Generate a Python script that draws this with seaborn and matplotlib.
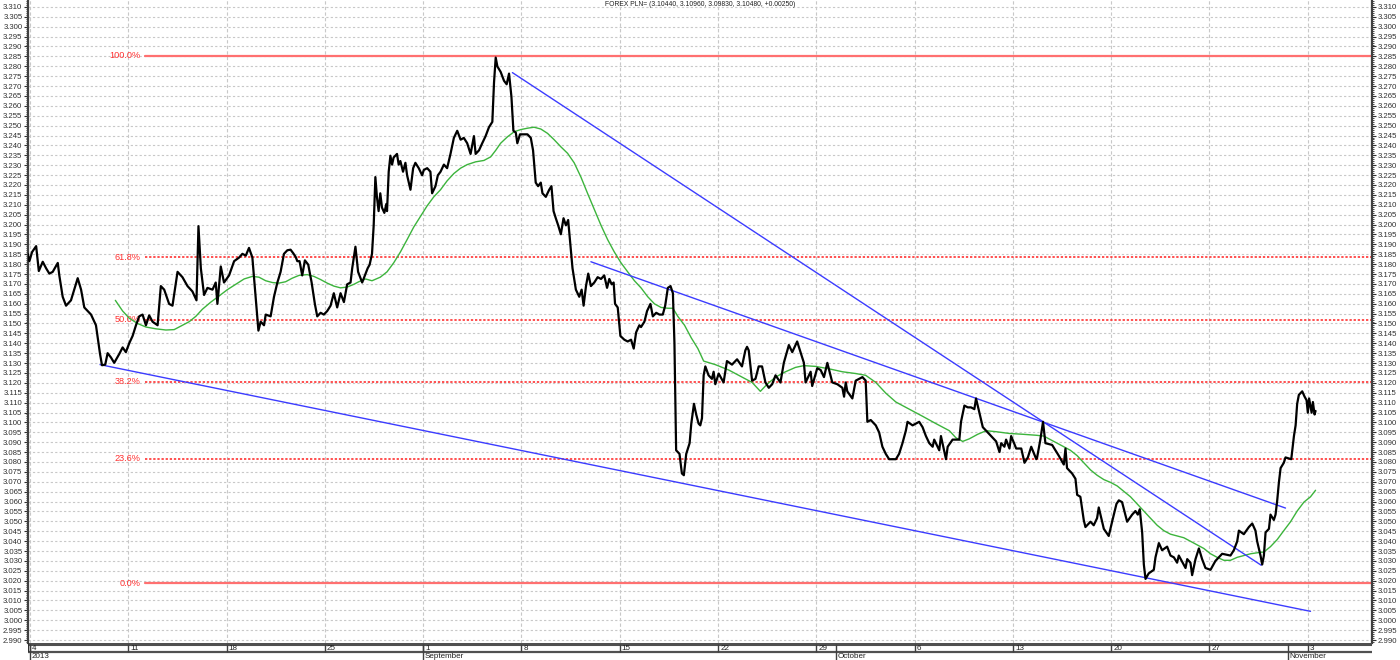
import numpy as np
import pandas as pd
import seaborn as sns
import matplotlib.pyplot as plt

# x = trading-time position in "days" from Sunday Aug 4 2013 (7 units per week)
price_x = [
    -0.16, -0.04, 0.15, 0.44, 0.63, 0.91, 1.15, 1.38, 1.62, 1.98, 2.09, 2.33, 2.57, 2.92, 3.40, 3.64,
    3.87, 4.11, 4.35, 4.70, 4.99, 5.13, 5.36, 5.53, 5.77, 6.00, 6.36, 6.60, 6.83, 7.07, 7.31, 7.55,
    7.78, 8.02, 8.26, 8.49, 8.73, 9.09, 9.32, 9.56, 9.91, 10.15, 10.51, 10.86, 11.22, 11.57, 11.86,
    12.00, 12.17, 12.40, 12.64, 13.00, 13.23, 13.35, 13.59, 13.82, 14.18, 14.54, 14.89, 15.13, 15.37,
    15.60, 15.84, 16.03, 16.27, 16.43, 16.67, 16.79, 17.14, 17.38, 17.62, 17.85, 18.09, 18.33, 18.56,
    18.75, 18.92, 19.04, 19.20, 19.39, 19.58, 19.82, 20.06, 20.29, 20.46, 20.70, 20.93, 21.17, 21.41,
    21.64, 21.88, 22.12, 22.36, 22.59, 22.83, 22.95, 23.18, 23.37, 23.66, 23.90,
    24.05, 24.19, 24.36, 24.48, 24.60, 24.71, 24.83, 24.95, 25.07, 25.24, 25.38, 25.43, 25.55, 25.67,
    25.79, 25.90, 26.14, 26.26, 26.38, 26.57, 26.74, 26.86, 27.10, 27.29, 27.45, 27.69, 27.93, 28.05,
    28.29, 28.52, 28.64, 28.88, 29.05, 29.24, 29.48, 29.71, 29.95, 30.19, 30.43, 30.67, 30.90, 31.14,
    31.38, 31.62, 31.74, 31.98, 32.21, 32.45, 32.69, 32.93, 33.05, 33.17, 33.29, 33.52, 33.76, 33.95,
    34.12, 34.29, 34.43, 34.60, 34.71, 34.90, 35.19, 35.43, 35.67, 35.83, 36.02, 36.19, 36.38, 36.50,
    36.74, 36.98, 37.14, 37.29, 37.45, 37.62, 37.81, 38.00, 38.17, 38.33, 38.52, 38.64, 38.88, 39.12,
    39.29, 39.43, 39.60, 39.76, 39.95, 40.19, 40.43, 40.67, 40.90, 41.10, 41.26, 41.43, 41.57, 41.67,
    41.86, 42.05, 42.33, 42.57, 42.81, 43.00, 43.17, 43.40, 43.52, 43.76, 43.95, 44.19, 44.36, 44.60,
    44.83, 45.07, 45.24, 45.43, 45.62, 45.79, 45.90, 46.02, 46.26, 46.43, 46.57, 46.74, 46.98, 47.10,
    47.29, 47.45, 47.62, 47.74,
    47.86, 47.98, 48.10, 48.33, 48.57, 48.69, 48.81, 49.05, 49.40, 49.64, 50.00, 50.36, 50.71, 50.95,
    51.07, 51.19, 51.43, 51.67, 51.90, 52.14, 52.38, 52.62, 52.86, 53.10, 53.45, 53.69, 54.05, 54.29,
    54.64, 54.88, 55.12, 55.24, 55.60, 55.71, 56.07, 56.31, 56.55, 56.79, 57.14, 57.50, 57.86, 57.98,
    58.10, 58.21, 58.57, 58.81, 59.29, 59.52, 59.64, 59.88, 60.24, 60.48, 60.71, 60.95, 61.19, 61.67,
    61.90, 62.14, 62.38, 62.50, 62.86, 63.10, 63.33, 63.57, 63.81, 64.05, 64.29, 64.40, 64.76, 64.88,
    65.24, 65.36, 65.71, 66.19, 66.31, 66.55, 66.79, 67.02, 67.26, 67.38, 67.62, 67.86, 68.33, 68.81,
    69.05, 69.17, 69.40, 69.52, 69.76, 69.88, 70.24, 70.60, 70.83, 71.07, 71.31, 71.67,
    71.73, 71.96, 72.15, 72.32, 72.80, 73.27, 73.63, 73.75, 73.86, 74.22, 74.46, 74.58, 74.81, 75.05,
    75.17, 75.53, 75.76, 76.00, 76.12, 76.48, 76.83, 77.07, 77.38, 77.55, 77.78, 78.14, 78.50, 78.73,
    78.90, 79.04, 79.21, 79.33, 79.45, 79.68, 80.04, 80.16, 80.40, 80.63, 80.99, 81.23, 81.47, 81.70,
    81.82, 82.30, 82.42, 82.65, 82.77, 83.01, 83.25, 83.48, 83.72, 84.08, 84.43, 84.67, 84.91, 85.50,
    85.74, 85.98, 86.10, 86.45, 86.81, 87.05, 87.28, 87.40, 87.64, 87.76, 87.88, 88.00, 88.24, 88.35,
    88.59, 88.71, 88.83, 88.95, 89.07, 89.30, 89.42, 89.83, 90.02, 90.14, 90.25, 90.37, 90.61, 90.78,
    90.92, 91.01, 91.10, 91.28, 91.37, 91.49, 91.56,
]
price_y = [
    3.1852, 3.1815, 3.1861, 3.1891, 3.1765, 3.1812, 3.1779, 3.1752, 3.1761, 3.1806, 3.1743, 3.1635, 3.1590, 3.1617, 3.1729, 3.1671,
    3.1581, 3.1563, 3.1545, 3.1491, 3.1346, 3.1289, 3.1292, 3.1350, 3.1328, 3.1301, 3.1346, 3.1379, 3.1355, 3.1400, 3.1437, 3.1491,
    3.1536, 3.1545, 3.1491, 3.1541, 3.1509, 3.1491, 3.1689, 3.1671, 3.1599, 3.1590, 3.1761, 3.1734, 3.1689, 3.1662, 3.1617,
    3.1992, 3.1779, 3.1644, 3.1680, 3.1671, 3.1707, 3.1599, 3.1788, 3.1707, 3.1743, 3.1815, 3.1833, 3.1852, 3.1843,
    3.1882, 3.1833, 3.1671, 3.1464, 3.1509, 3.1491, 3.1545, 3.1536, 3.1635, 3.1707, 3.1761, 3.1852, 3.1870, 3.1873,
    3.1855, 3.1837, 3.1815, 3.1815, 3.1743, 3.1819, 3.1797, 3.1707, 3.1599, 3.1536, 3.1554, 3.1545, 3.1563, 3.1590,
    3.1653, 3.1581, 3.1653, 3.1608, 3.1698, 3.1707, 3.1779, 3.1888, 3.1761, 3.1707, 3.1752,
    3.1779, 3.1797, 3.1852, 3.1996, 3.2240, 3.2140, 3.2068, 3.2158, 3.2086, 3.2059, 3.2104, 3.2068, 3.2267, 3.2348,
    3.2303, 3.2339, 3.2357, 3.2303, 3.2321, 3.2267, 3.2312, 3.2249, 3.2176, 3.2285, 3.2312, 3.2285, 3.2249, 3.2276,
    3.2285, 3.2267, 3.2158, 3.2194, 3.2249, 3.2267, 3.2303, 3.2285, 3.2357, 3.2438, 3.2474, 3.2429, 3.2438, 3.2411,
    3.2357, 3.2447, 3.2357, 3.2375, 3.2411, 3.2447, 3.2492, 3.2519, 3.2718, 3.2844, 3.2799, 3.2772, 3.2727, 3.2709,
    3.2763, 3.2646, 3.2474, 3.2465, 3.2411, 3.2456, 3.2456, 3.2456, 3.2438, 3.2375, 3.2212, 3.2194, 3.2212, 3.2158,
    3.2140, 3.2176, 3.2194, 3.2068, 3.2032, 3.1996, 3.1951, 3.2032, 3.1996, 3.2023, 3.1870, 3.1779, 3.1671, 3.1635,
    3.1671, 3.1590, 3.1689, 3.1752, 3.1689, 3.1707, 3.1734, 3.1725, 3.1743, 3.1680, 3.1725, 3.1698, 3.1707, 3.1599,
    3.1581, 3.1437, 3.1418, 3.1409, 3.1418, 3.1373, 3.1455, 3.1491, 3.1482, 3.1509, 3.1563, 3.1599, 3.1536, 3.1554,
    3.1545, 3.1545, 3.1590, 3.1680, 3.1689, 3.1653, 3.1400, 3.0859, 3.0841, 3.0742, 3.0733, 3.0841, 3.0895, 3.0994,
    3.1094, 3.1040, 3.0994, 3.0985,
    3.1021, 3.1238, 3.1283, 3.1238, 3.1220, 3.1256, 3.1193, 3.1247, 3.1202, 3.1310, 3.1292, 3.1319, 3.1283, 3.1364,
    3.1382, 3.1364, 3.1211, 3.1220, 3.1283, 3.1283, 3.1202, 3.1175, 3.1193, 3.1238, 3.1202, 3.1301, 3.1391, 3.1355,
    3.1409, 3.1355, 3.1301, 3.1202, 3.1256, 3.1184, 3.1274, 3.1265, 3.1229, 3.1301, 3.1202, 3.1193, 3.1175, 3.1130,
    3.1202, 3.1157, 3.1121, 3.1211, 3.1229, 3.1211, 3.1003, 3.1012, 3.0985, 3.0949, 3.0877, 3.0841, 3.0814, 3.0814,
    3.0841, 3.0895, 3.0958, 3.1003, 3.0985, 3.0994, 3.1003, 3.0976, 3.0931, 3.0895, 3.0877, 3.0913, 3.0859, 3.0931,
    3.0814, 3.0877, 3.0913, 3.0913, 3.1003, 3.1085, 3.1076, 3.1076, 3.1067, 3.1121, 3.1049, 3.0976, 3.0940, 3.0904,
    3.0850, 3.0895, 3.0877, 3.0913, 3.0868, 3.0931, 3.0868, 3.0868, 3.0796, 3.0823, 3.0877, 3.0814,
    3.0823, 3.0913, 3.1003, 3.0895, 3.0886, 3.0832, 3.0787, 3.0868, 3.0769, 3.0742, 3.0715, 3.0634, 3.0624, 3.0507,
    3.0471, 3.0498, 3.0480, 3.0516, 3.0570, 3.0462, 3.0426, 3.0498, 3.0588, 3.0606, 3.0597, 3.0498, 3.0534, 3.0552,
    3.0534, 3.0561, 3.0444, 3.0282, 3.0209, 3.0237, 3.0255, 3.0318, 3.0390, 3.0354, 3.0372, 3.0327, 3.0318, 3.0291,
    3.0327, 3.0264, 3.0309, 3.0291, 3.0228, 3.0309, 3.0363, 3.0309, 3.0264, 3.0255, 3.0300, 3.0318, 3.0336, 3.0327,
    3.0354, 3.0399, 3.0453, 3.0435, 3.0471, 3.0489, 3.0453, 3.0399, 3.0327, 3.0282, 3.0327, 3.0444, 3.0462, 3.0534,
    3.0507, 3.0534, 3.0606, 3.0697, 3.0769, 3.0796, 3.0823, 3.0814, 3.0931, 3.0985, 3.1094, 3.1139, 3.1157, 3.1130,
    3.1112, 3.1049, 3.1121, 3.1049, 3.1103, 3.1040, 3.1058,
]

# green moving average
ma_x = [
    6.08, 6.60, 7.07, 7.66, 8.26, 8.97, 9.68, 10.27, 10.86, 11.34, 11.81, 12.28, 12.88, 13.47, 14.06,
    14.65, 15.25, 15.84, 16.31, 16.79, 17.26, 17.73, 18.21, 18.68, 19.16, 19.75, 20.22, 20.70, 21.17,
    21.64, 22.12, 22.59, 23.07, 23.42, 23.90,
    24.36, 24.95, 25.43, 25.90, 26.38, 26.86, 27.33, 27.81, 28.29, 28.76, 29.24, 29.71, 30.19, 30.67,
    31.14, 31.74, 32.33, 32.81, 33.17, 33.52, 34.00, 34.48, 34.95, 35.43, 35.90, 36.38, 36.86, 37.33,
    37.81, 38.29, 38.76, 39.24, 39.71, 40.19, 40.67, 41.14, 41.62, 42.10, 42.57, 43.05, 43.52, 44.00,
    44.48, 44.95, 45.43, 45.79, 46.14, 46.62, 47.10, 47.57,
    47.98, 48.81, 49.76, 50.71, 51.43, 52.02, 52.50, 53.10, 53.81, 54.52, 55.12, 55.95, 56.90, 57.86,
    58.81, 59.52, 60.24, 60.95, 61.67, 62.62, 63.57, 64.52, 65.48, 65.95, 66.43, 66.90, 67.50, 68.10,
    68.81, 69.76, 70.71, 71.67,
    72.20, 72.68, 73.15, 73.63, 74.10, 74.58, 75.05, 75.53, 76.00, 76.48, 76.95, 77.43, 77.90, 78.38,
    78.85, 79.33, 79.80, 80.28, 80.75, 81.23, 81.70, 82.18, 82.65, 83.13, 83.60, 84.08, 84.55, 85.03,
    85.50, 85.98, 86.45, 86.93, 87.40, 87.88, 88.35, 88.83, 89.30, 89.78, 90.25, 90.73, 91.20, 91.56,
]
ma_y = [
    3.1617, 3.1563, 3.1527, 3.1500, 3.1482, 3.1473, 3.1467, 3.1469, 3.1491, 3.1509, 3.1536, 3.1572, 3.1608, 3.1639, 3.1671,
    3.1698, 3.1725, 3.1738, 3.1734, 3.1716, 3.1707, 3.1704, 3.1711, 3.1729, 3.1743, 3.1747, 3.1738, 3.1722, 3.1704,
    3.1689, 3.1680, 3.1684, 3.1698, 3.1711, 3.1725,
    3.1716, 3.1734, 3.1761, 3.1806, 3.1861, 3.1924, 3.1987, 3.2041, 3.2095, 3.2140, 3.2176, 3.2221, 3.2258, 3.2285,
    3.2303, 3.2317, 3.2324, 3.2342, 3.2375, 3.2411, 3.2443, 3.2469, 3.2480, 3.2487, 3.2492, 3.2483, 3.2461, 3.2429,
    3.2393, 3.2360, 3.2312, 3.2240, 3.2158, 3.2077, 3.1996, 3.1924, 3.1861, 3.1806, 3.1761, 3.1716, 3.1680, 3.1635,
    3.1599, 3.1581, 3.1577, 3.1577, 3.1536, 3.1491, 3.1427, 3.1373,
    3.1310, 3.1292, 3.1265, 3.1229, 3.1202, 3.1157, 3.1193, 3.1229, 3.1256, 3.1278, 3.1287, 3.1283, 3.1271, 3.1256,
    3.1247, 3.1238, 3.1202, 3.1148, 3.1103, 3.1067, 3.1031, 3.0994, 3.0958, 3.0922, 3.0904, 3.0917, 3.0940, 3.0958,
    3.0953, 3.0944, 3.0940, 3.0935,
    3.0931, 3.0913, 3.0895, 3.0877, 3.0859, 3.0832, 3.0796, 3.0760, 3.0733, 3.0711, 3.0697, 3.0679, 3.0652, 3.0624,
    3.0588, 3.0552, 3.0516, 3.0480, 3.0453, 3.0435, 3.0426, 3.0417, 3.0399, 3.0381, 3.0363, 3.0336, 3.0318, 3.0303,
    3.0303, 3.0318, 3.0327, 3.0336, 3.0341, 3.0345, 3.0372, 3.0408, 3.0453, 3.0498, 3.0552, 3.0597, 3.0624, 3.0657,
]

# blue trend lines (start/end)
trend_lower_x = [4.99, 91.2]
trend_lower_y = [3.1292, 3.0045]
trend_upper_x = [34.36, 87.69]
trend_upper_y = [3.2768, 3.0278]
trend_mid_x = [39.95, 89.42]
trend_mid_y = [3.1812, 3.0567]

# fibonacci retracement
fib_low = 3.0186
fib_high = 3.2853
fib_pcts = [0.0, 23.6, 38.2, 50.0, 61.8, 100.0]
fib_start = 8.2

week_pos = [0, 7, 14, 21, 28, 35, 42, 49, 56, 63, 70, 77, 84, 91]
week_labels = ["4", "11", "18", "25", "1", "8", "15", "22", "29", "6", "13", "20", "27", "3"]
month_pos = [0, 28, 57.4, 89.6]
month_labels = ["2013", "September", "October", "November"]

title = "FOREX PLN= (3.10440, 3.10960, 3.09830, 3.10480, +0.00250)"

sns.set_style("white")
plt.rcParams['font.family'] = ['Liberation Sans', 'DejaVu Sans']

W, H = 1400, 660
fig = plt.figure(figsize=(14, 6.6), dpi=100)
ax = fig.add_axes([28 / W, 17 / H, (1372 - 28) / W, 643 / H])

xmin, xmax = -0.14, 95.58
ymin, ymax = 2.9885, 3.3135

# grid
for v in np.arange(2.990, 3.3101, 0.005):
    ax.axhline(v, color='#c8c8c8', lw=0.8, ls=(0, (2, 2)), zorder=0)
for d in week_pos:
    ax.axvline(d, color='#c8c8c8', lw=0.8, ls=(0, (3, 2)), zorder=0)

# fib lines
for p in fib_pcts:
    lvl = fib_low + (fib_high - fib_low) * p / 100
    if p in (0.0, 100.0):
        ax.plot([fib_start, xmax], [lvl, lvl], color='#ff7070', lw=1.6, zorder=2)
    else:
        ax.plot([fib_start, xmax], [lvl, lvl], color='#ff2020', lw=1.1, ls=(0, (1.5, 1.2)), zorder=2)
    ax.text(fib_start - 0.3, lvl, f"{p:.1f}%", color='#ff3030', fontsize=6.6,
            ha='right', va='center', zorder=3)

df_price = pd.DataFrame({"pos": price_x, "price": price_y})
df_ma = pd.DataFrame({"pos": ma_x, "ma": ma_y})

sns.lineplot(data=df_ma, x="pos", y="ma", ax=ax, color='#3cb43c', lw=1.0,
             estimator=None, sort=False, zorder=3)
for tx, ty in [(trend_lower_x, trend_lower_y), (trend_upper_x, trend_upper_y), (trend_mid_x, trend_mid_y)]:
    sns.lineplot(x=tx, y=ty, ax=ax, color='#3c3cff', lw=1.0, estimator=None, sort=False, zorder=4)
sns.lineplot(data=df_price, x="pos", y="price", ax=ax, color='black', lw=1.6,
             estimator=None, sort=False, zorder=5)

ax.set_xlim(xmin, xmax)
ax.set_ylim(ymin, ymax)
ax.set_xlabel("")
ax.set_ylabel("")
ax.set_xticks([])
ticks = np.arange(2.990, 3.3101, 0.005)
ax.set_yticks(ticks)
ax.set_yticklabels([f"{v:.3f}" for v in ticks])
ax.set_yticks(np.arange(2.989, 3.3131, 0.001), minor=True)
ax.tick_params(axis='y', which='major', left=True, right=True, labelleft=True, labelright=True,
               labelsize=5.6, length=3, width=0.8, pad=1, colors='#303030')
ax.tick_params(axis='y', which='minor', left=True, right=True, length=1.5, width=0.6, colors='#303030')
for s in ['left', 'right']:
    ax.spines[s].set_color('#404040')
    ax.spines[s].set_linewidth(1.6)
ax.spines['top'].set_visible(False)
ax.spines['bottom'].set_visible(False)

ax.text(0.5, 0.998, title, transform=ax.transAxes, ha='center', va='top', fontsize=4.9, color='#202020')

# date band below
band = fig.add_axes([28 / W, 0, (1372 - 28) / W, 17 / H])
band.set_xlim(xmin, xmax)
band.set_ylim(0, 17)
band.axis('off')
band.hlines([16.3], xmin, xmax, color='#505050', lw=2.2)
band.hlines([8], xmin, xmax, color='#505050', lw=1.6)
band.vlines([xmin], 8, 17, color='#303030', lw=1.6)
for d, lab in zip(week_pos, week_labels):
    band.vlines([d], 8, 16.3, color='#404040', lw=1.0)
    band.text(d + 0.15, 12, lab, fontsize=5.8, ha='left', va='center', color='#202020')
for d, lab in zip(month_pos, month_labels):
    band.vlines([d], 0, 16.3, color='#404040', lw=1.0)
    band.text(d + 0.1, 3.5, lab, fontsize=5.8, ha='left', va='center', color='#202020')

fig.savefig("out.png", dpi=100)
